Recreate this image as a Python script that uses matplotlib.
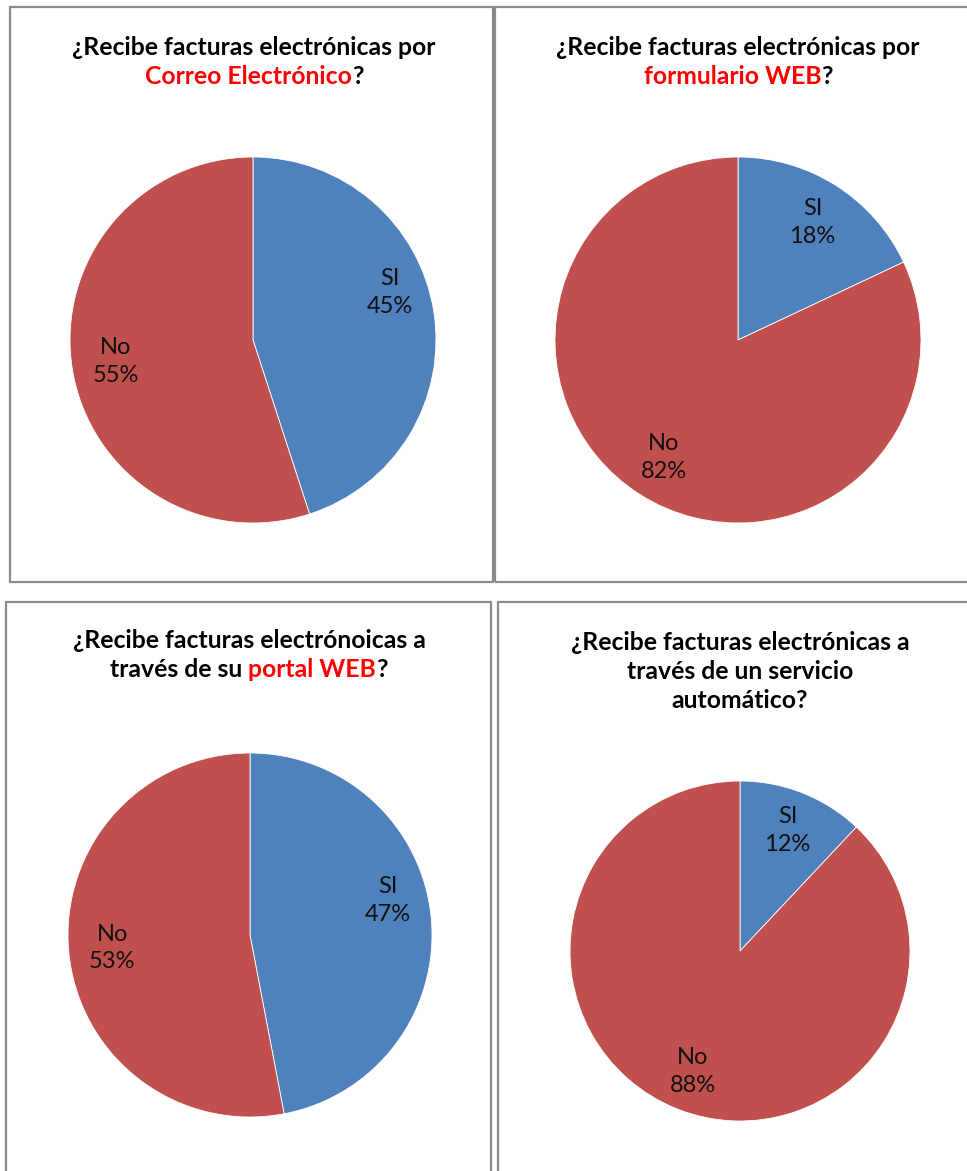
import matplotlib
matplotlib.use("Agg")
from matplotlib import pyplot as plt
from matplotlib.patches import Rectangle
import numpy as np

# data
categorias = ["SI", "No"]
correo = [45, 55]
formulario = [18, 82]
portal = [47, 53]
automatico = [12, 88]

titulo_correo = [[("¿Recibe facturas electrónicas por", "black")],
                 [("Correo Electrónico", "red"), ("?", "black")]]
titulo_formulario = [[("¿Recibe facturas electrónicas por", "black")],
                     [("formulario WEB", "red"), ("?", "black")]]
titulo_portal = [[("¿Recibe facturas electrónoicas a", "black")],
                 [("través de su ", "black"), ("portal WEB", "red"), ("?", "black")]]
titulo_automatico = [[("¿Recibe facturas electrónicas a", "black")],
                     [("través de un servicio", "black")],
                     [("automático?", "black")]]

colores = ["#4F81BD", "#C0504D"]

W, H = 967, 1171
fig = plt.figure(figsize=(W / 100, H / 100), dpi=100)
fig.patch.set_facecolor("white")
plt.rcParams["font.family"] = ["Lato", "DejaVu Sans"]
renderer = fig.canvas.get_renderer()


def fx(x):
    return x / W


def fy(y):
    return 1 - y / H


def panel(x0, y0, x1, y1):
    fig.patches.append(Rectangle((fx(x0), fy(y1)), fx(x1 - x0), (y1 - y0) / H,
                                 transform=fig.transFigure, fill=False,
                                 edgecolor="#8a8a8a", linewidth=1.6))


def titulo(lineas, cx, y_base, size, paso=29):
    for i, segs in enumerate(lineas):
        textos = []
        for s, c in segs:
            t = fig.text(0, fy(y_base + i * paso), s, color=c, fontsize=size,
                         fontweight="bold", ha="left", va="baseline")
            textos.append(t)
        anchos = [t.get_window_extent(renderer).width for t in textos]
        x = cx - sum(anchos) / 2
        for t, a in zip(textos, anchos):
            t.set_x(fx(x))
            x += a


def pastel(valores, cx, cy, r, subir_si=0.0):
    ax = fig.add_axes([fx(cx - r), fy(cy + r), 2 * r / W, 2 * r / H])
    wedges, _ = ax.pie(valores, colors=colores, startangle=90, counterclock=False,
                       radius=1, wedgeprops=dict(edgecolor="white", linewidth=0.6))
    for k, (w, cat, v) in enumerate(zip(wedges, categorias, valores)):
        ang = np.deg2rad((w.theta1 + w.theta2) / 2)
        dy = subir_si if k == 0 else 0.0
        ax.text(0.76 * np.cos(ang), 0.76 * np.sin(ang) + dy, f"{cat}\n{v}%",
                ha="center", va="center", fontsize=17, linespacing=1.4,
                color="#111111")
    ax.set_xlim(-1, 1)
    ax.set_ylim(-1, 1)
    ax.set_aspect("equal")
    ax.axis("off")


panel(10, 7, 493, 582)
panel(495, 7, 975, 582)
panel(6, 602, 491, 1180)
panel(498, 602, 975, 1180)

# fit title size to the measured width of the first title line
prueba = fig.text(0, 0, titulo_correo[0][0][0], fontsize=10, fontweight="bold")
ancho = prueba.get_window_extent(renderer).width
prueba.remove()
tam = 10 * 365 / ancho

titulo(titulo_correo, 254, 55, tam)
titulo(titulo_formulario, 738, 55, tam)
titulo(titulo_portal, 249, 648, tam)
titulo(titulo_automatico, 740, 650, tam)

pastel(correo, 253, 340, 183, subir_si=0.14)
pastel(formulario, 738, 340, 183)
pastel(portal, 250, 935, 182, subir_si=0.12)
pastel(automatico, 740, 951, 170)

fig.savefig("out.png", dpi=100)
